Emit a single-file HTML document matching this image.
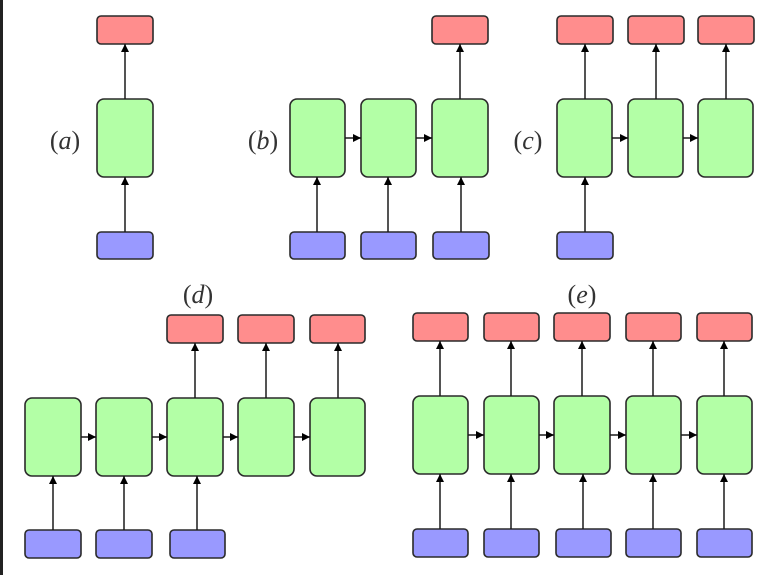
<!DOCTYPE html>
<html><head><meta charset="utf-8"><style>
html,body{margin:0;padding:0;background:#fff;width:776px;height:575px;overflow:hidden}
svg{display:block}
.g{fill:#b3ffa6;stroke:#2a2a2a;stroke-width:1.6}
.r{fill:#ff8d8d;stroke:#2a2a2a;stroke-width:1.6}
.b{fill:#9999ff;stroke:#2a2a2a;stroke-width:1.6}
.l{stroke:#1a1a1a;stroke-width:1.5;marker-end:url(#ah)}
text{font-family:"Liberation Serif",serif;font-size:26px;fill:#333;text-anchor:middle}
text tspan.i{font-style:italic}
</style></head><body>
<svg width="776" height="575" viewBox="0 0 776 575">
<defs><marker id="ah" markerWidth="10" markerHeight="10" refX="8" refY="4.5" orient="auto" markerUnits="userSpaceOnUse"><path d="M0,0.5 L8,4.5 L0,8.5z" fill="#000"/></marker></defs>
<rect x="0" y="0" width="3" height="575" fill="#222"/>
<!-- (a) -->
<text x="65" y="149">(<tspan class="i">a</tspan>)</text>
<rect class="r" x="97" y="16" width="56" height="28" rx="4"/>
<rect class="g" x="97" y="99" width="56" height="78" rx="7"/>
<rect class="b" x="97" y="232" width="56" height="27" rx="4"/>
<line class="l" x1="125" y1="232" x2="125" y2="177"/>
<line class="l" x1="125" y1="99" x2="125" y2="44"/>
<!-- (b) -->
<text x="263" y="149">(<tspan class="i">b</tspan>)</text>
<rect class="r" x="432" y="16" width="56" height="28" rx="4"/>
<rect class="g" x="290" y="99" width="55" height="78" rx="7"/>
<rect class="g" x="361" y="99" width="55" height="78" rx="7"/>
<rect class="g" x="432" y="99" width="56" height="78" rx="7"/>
<rect class="b" x="290" y="232" width="55" height="27" rx="4"/>
<rect class="b" x="361" y="232" width="55" height="27" rx="4"/>
<rect class="b" x="433" y="232" width="56" height="27" rx="4"/>
<line class="l" x1="317" y1="232" x2="317" y2="177"/>
<line class="l" x1="388" y1="232" x2="388" y2="177"/>
<line class="l" x1="461" y1="232" x2="461" y2="177"/>
<line class="l" x1="345" y1="138" x2="361" y2="138"/>
<line class="l" x1="416" y1="138" x2="432" y2="138"/>
<line class="l" x1="460" y1="99" x2="460" y2="44"/>
<!-- (c) -->
<text x="528" y="149">(<tspan class="i">c</tspan>)</text>
<rect class="r" x="557" y="16" width="56" height="28" rx="4"/>
<rect class="r" x="628" y="16" width="56" height="28" rx="4"/>
<rect class="r" x="698" y="16" width="56" height="28" rx="4"/>
<rect class="g" x="557" y="99" width="55" height="78" rx="7"/>
<rect class="g" x="628" y="99" width="55" height="78" rx="7"/>
<rect class="g" x="698" y="99" width="55" height="78" rx="7"/>
<rect class="b" x="557" y="232" width="56" height="27" rx="4"/>
<line class="l" x1="585" y1="232" x2="585" y2="177"/>
<line class="l" x1="612" y1="138" x2="628" y2="138"/>
<line class="l" x1="683" y1="138" x2="698" y2="138"/>
<line class="l" x1="585" y1="99" x2="585" y2="44"/>
<line class="l" x1="656" y1="99" x2="656" y2="44"/>
<line class="l" x1="726" y1="99" x2="726" y2="44"/>
<!-- (d) -->
<text x="198" y="303">(<tspan class="i">d</tspan>)</text>
<rect class="r" x="167" y="315" width="56" height="28" rx="4"/>
<rect class="r" x="238" y="315" width="56" height="28" rx="4"/>
<rect class="r" x="310" y="315" width="55" height="28" rx="4"/>
<rect class="g" x="25" y="398" width="56" height="78" rx="7"/>
<rect class="g" x="96" y="398" width="56" height="78" rx="7"/>
<rect class="g" x="167" y="398" width="56" height="78" rx="7"/>
<rect class="g" x="238" y="398" width="56" height="78" rx="7"/>
<rect class="g" x="310" y="398" width="55" height="78" rx="7"/>
<rect class="b" x="25" y="530" width="56" height="28" rx="4"/>
<rect class="b" x="96" y="530" width="56" height="28" rx="4"/>
<rect class="b" x="170" y="530" width="55" height="28" rx="4"/>
<line class="l" x1="53" y1="530" x2="53" y2="476"/>
<line class="l" x1="124" y1="530" x2="124" y2="476"/>
<line class="l" x1="197" y1="530" x2="197" y2="476"/>
<line class="l" x1="81" y1="437" x2="96" y2="437"/>
<line class="l" x1="152" y1="437" x2="167" y2="437"/>
<line class="l" x1="223" y1="437" x2="238" y2="437"/>
<line class="l" x1="294" y1="437" x2="310" y2="437"/>
<line class="l" x1="195" y1="398" x2="195" y2="343"/>
<line class="l" x1="266" y1="398" x2="266" y2="343"/>
<line class="l" x1="338" y1="398" x2="338" y2="343"/>
<!-- (e) -->
<text x="582" y="303">(<tspan class="i">e</tspan>)</text>
<rect class="r" x="413" y="313" width="55" height="28" rx="4"/>
<rect class="r" x="484" y="313" width="55" height="28" rx="4"/>
<rect class="r" x="554" y="313" width="56" height="28" rx="4"/>
<rect class="r" x="626" y="313" width="55" height="28" rx="4"/>
<rect class="r" x="697" y="313" width="55" height="28" rx="4"/>
<rect class="g" x="413" y="396" width="55" height="78" rx="7"/>
<rect class="g" x="484" y="396" width="55" height="78" rx="7"/>
<rect class="g" x="554" y="396" width="56" height="78" rx="7"/>
<rect class="g" x="626" y="396" width="55" height="78" rx="7"/>
<rect class="g" x="697" y="396" width="55" height="78" rx="7"/>
<rect class="b" x="413" y="529" width="55" height="28" rx="4"/>
<rect class="b" x="484" y="529" width="55" height="28" rx="4"/>
<rect class="b" x="556" y="529" width="55" height="28" rx="4"/>
<rect class="b" x="626" y="529" width="55" height="28" rx="4"/>
<rect class="b" x="697" y="529" width="55" height="28" rx="4"/>
<line class="l" x1="440" y1="529" x2="440" y2="474"/>
<line class="l" x1="511" y1="529" x2="511" y2="474"/>
<line class="l" x1="583" y1="529" x2="583" y2="474"/>
<line class="l" x1="653" y1="529" x2="653" y2="474"/>
<line class="l" x1="724" y1="529" x2="724" y2="474"/>
<line class="l" x1="468" y1="435" x2="484" y2="435"/>
<line class="l" x1="539" y1="435" x2="554" y2="435"/>
<line class="l" x1="610" y1="435" x2="626" y2="435"/>
<line class="l" x1="681" y1="435" x2="697" y2="435"/>
<line class="l" x1="440" y1="396" x2="440" y2="341"/>
<line class="l" x1="511" y1="396" x2="511" y2="341"/>
<line class="l" x1="582" y1="396" x2="582" y2="341"/>
<line class="l" x1="653" y1="396" x2="653" y2="341"/>
<line class="l" x1="724" y1="396" x2="724" y2="341"/>
</svg>
</body></html>
